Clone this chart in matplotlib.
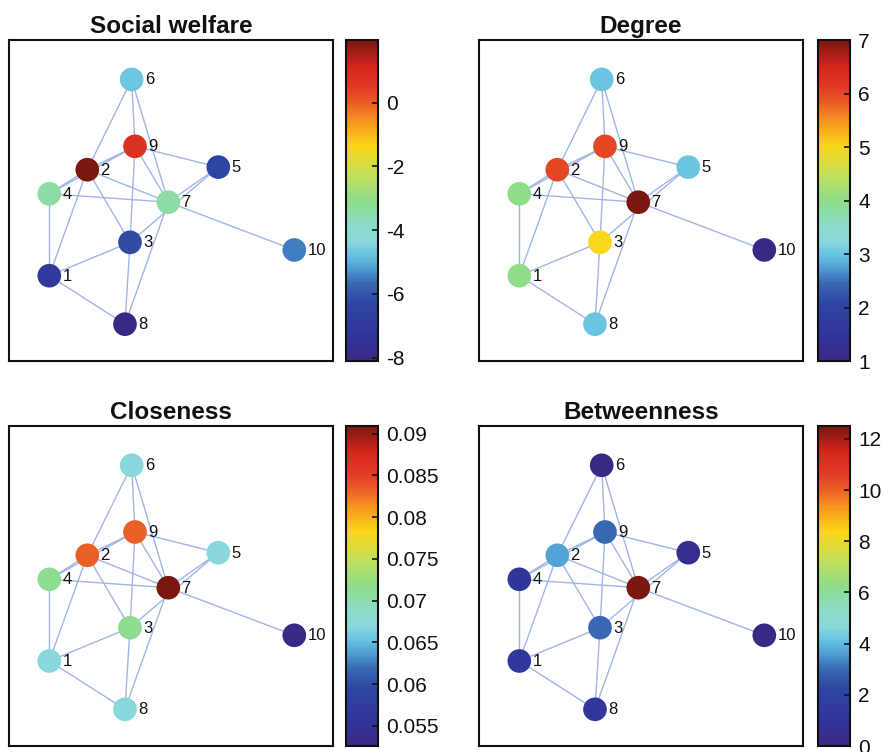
import matplotlib
matplotlib.use("Agg")
import matplotlib.pyplot as plt
from matplotlib.colors import LinearSegmentedColormap

plt.rcParams['font.family'] = ['Liberation Sans', 'DejaVu Sans']

# Network: nodes, layout and edges
nodes = [1, 2, 3, 4, 5, 6, 7, 8, 9, 10]
node_x = [40.3, 78.3, 121.0, 40.3, 209.3, 122.7, 159.3, 116.0, 126.0, 285.3]
node_y = [235.0, 129.3, 201.7, 153.3, 126.7, 39.3, 161.7, 283.3, 106.0, 209.3]
edges = [(1, 2), (1, 4), (1, 3), (1, 8), (2, 6), (2, 9), (2, 4), (2, 7), (2, 3),
         (3, 9), (3, 5), (3, 8), (4, 9), (4, 7), (5, 9), (5, 7), (6, 9), (6, 7),
         (7, 9), (7, 8), (7, 10)]

# Node measures
social_welfare = [-7.0, 1.96, -6.2, -3.4, -6.3, -4.7, -3.4, -8.1, 0.8, -5.5]
degree = [4, 6, 5, 4, 3, 3, 7, 3, 6, 1]
closeness = [0.0667, 0.0833, 0.0714, 0.0714, 0.0667, 0.0667, 0.0909, 0.0667, 0.0833, 0.0526]
betweenness = [1.167, 3.667, 3.0, 1.0, 0.5, 0.0, 12.5, 1.167, 3.0, 0.0]

titles = ["Social welfare", "Degree", "Closeness", "Betweenness"]
measures = [social_welfare, degree, closeness, betweenness]
cbar_ticks = [
    [-8, -6, -4, -2, 0],
    [1, 2, 3, 4, 5, 6, 7],
    [0.055, 0.06, 0.065, 0.07, 0.075, 0.08, 0.085, 0.09],
    [0, 2, 4, 6, 8, 10, 12],
]

cmap = LinearSegmentedColormap.from_list("netmap", [
    (0.00, "#3a2885"), (0.08, "#30359a"), (0.18, "#2d47a0"), (0.24, "#3868b2"),
    (0.29, "#529fd3"), (0.33, "#66c3e3"), (0.37, "#88d8dc"), (0.42, "#8cdccb"),
    (0.50, "#8edc8a"), (0.58, "#c2e05a"), (0.67, "#fbd718"), (0.75, "#f7931f"),
    (0.80, "#eb6127"), (0.85, "#e23c24"), (0.92, "#d3261e"), (1.00, "#7a1810"),
])

W, H = 884, 752
fig = plt.figure(figsize=(W / 100, H / 100), dpi=100)

# pixel boxes: (left, top, width, height)
ax_boxes = [(9, 40, 324, 321), (479, 40, 324, 321), (9, 426, 324, 320), (479, 426, 324, 320)]
cb_boxes = [(346, 40, 32, 321), (818, 40, 32, 321), (346, 426, 32, 320), (818, 426, 32, 320)]


def frac(box):
    l, t, w, h = box
    return [l / W, 1 - (t + h) / H, w / W, h / H]


idx = {n: i for i, n in enumerate(nodes)}

for k in range(4):
    ax = fig.add_axes(frac(ax_boxes[k]))
    cax = fig.add_axes(frac(cb_boxes[k]))
    vals = measures[k]
    for a, b in edges:
        ax.plot([node_x[idx[a]], node_x[idx[b]]], [node_y[idx[a]], node_y[idx[b]]],
                color="#9fb5e8", lw=1.0, zorder=1)
    sc = ax.scatter(node_x, node_y, c=vals, cmap=cmap, vmin=min(vals), vmax=max(vals),
                    s=290, linewidths=0, zorder=2)
    for n, x, y in zip(nodes, node_x, node_y):
        ax.text(x + 13, y + 0.5, str(n), fontsize=12, va="center", ha="left",
                color="#111111", zorder=3)
    ax.set_xlim(0, 324)
    ax.set_ylim(320, 0)
    ax.set_xticks([])
    ax.set_yticks([])
    for sp in ax.spines.values():
        sp.set_linewidth(1.5)
        sp.set_color("#111111")
    ax.set_title(titles[k], fontsize=17.5, fontweight="bold", pad=5, color="#111111")

    cb = fig.colorbar(sc, cax=cax)
    cb.set_ticks(cbar_ticks[k])
    cb.set_ticklabels(["%g" % t for t in cbar_ticks[k]])
    cb.outline.set_linewidth(1.5)
    cb.outline.set_edgecolor("#111111")
    cax.tick_params(direction="in", length=4, width=1.2, labelsize=15, pad=6, colors="#111111")

fig.savefig("out.png", dpi=100)
